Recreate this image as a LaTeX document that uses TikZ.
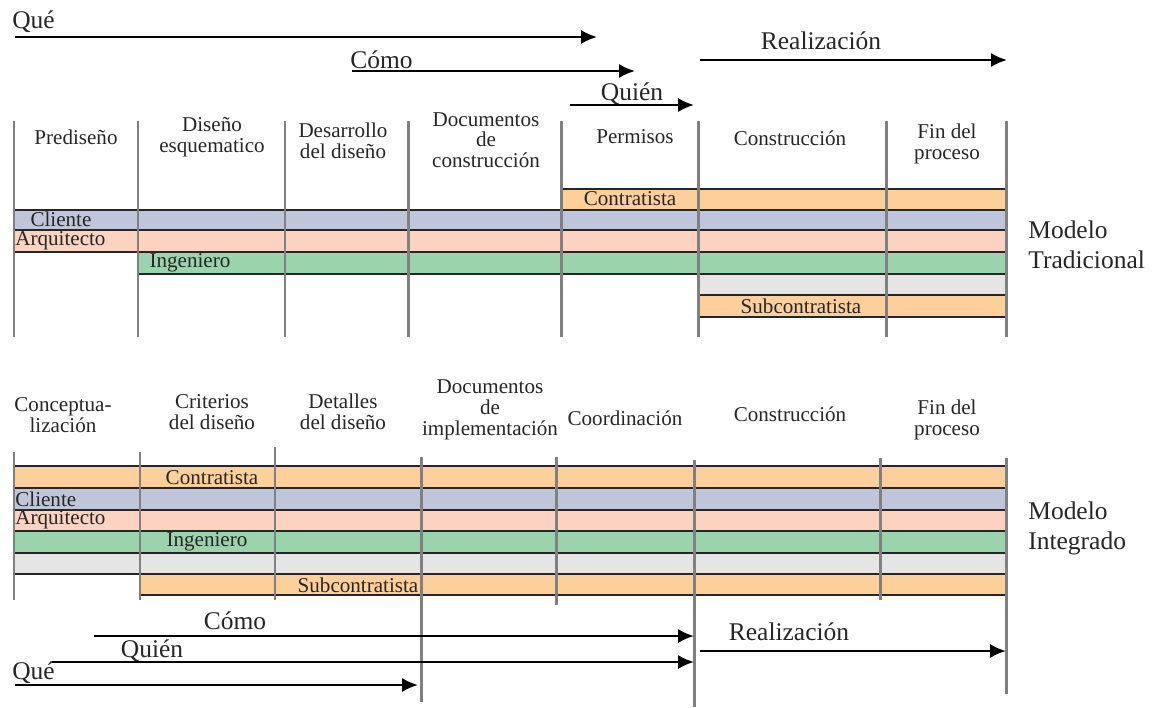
\documentclass[tikz,border=0pt]{standalone}
\usepackage{fontspec}
\setmainfont{Liberation Serif}
\usetikzlibrary{arrows.meta}
\definecolor{naranja}{RGB}{252,207,155}
\definecolor{azul}{RGB}{192,198,218}
\definecolor{salmon}{RGB}{252,211,193}
\definecolor{verde}{RGB}{155,211,172}
\definecolor{gris}{RGB}{229,229,229}
\begin{document}
\begin{tikzpicture}[x=0.02cm,y=-0.02cm]
\tikzstyle{every node}=[inner sep=0pt,text=black!85,font=\fontsize{12}{11.8}\selectfont];
\tikzstyle{fase}=[align=center];
\tikzstyle{banda}=[draw=black!85,line width=1.1pt];
\tikzstyle{poste}=[draw=gray,line width=1.7pt];
\tikzstyle{flecha}=[line width=1.4pt,-{Latex[length=9pt,width=8pt]}];
\tikzstyle{etiq}=[font=\fontsize{14.5}{17}\selectfont];
\useasboundingbox (0,0) rectangle (1158,707);
% flechas de arriba
\node[etiq,anchor=west] (que1) at (12,22) {Qué};
\node[etiq,anchor=west] (como1) at (350,60) {Cómo};
\node[etiq] (quien1) at (632,94) {Quién};
\node[etiq] (real1) at (821,41) {Realización};
\coordinate (qa1) at (15,37); \coordinate (qb1) at (597,37);
\coordinate (ca1) at (352,71); \coordinate (cb1) at (635,71);
\coordinate (wa1) at (570,105); \coordinate (wb1) at (694,105);
\coordinate (ra1) at (700,60); \coordinate (rb1) at (1007,60);
\draw[flecha] (qa1) -- (qb1);
\draw[flecha] (ca1) -- (cb1);
\draw[flecha] (wa1) -- (wb1);
\draw[flecha] (ra1) -- (rb1);
% modelo tradicional
\node[fase] (t1) at (76,137) {Prediseño};
\node[fase] (t2) at (212,137) {Diseño\\esquematico};
\node[fase] (t3) at (343,141) {Desarrollo\\del diseño};
\node[fase] (t4) at (486,140) {Documentos\\de\\construcción};
\node[fase] (t5) at (635,137) {Permisos};
\node[fase] (t6) at (790,138) {Construcción};
\node[fase] (t7) at (947,144) {Fin del\\proceso};
\filldraw[banda,fill=naranja] (561,189) rectangle (1006,210);
\filldraw[banda,fill=azul] (14,210) rectangle (1006,230);
\filldraw[banda,fill=salmon] (14,230) rectangle (1006,252);
\filldraw[banda,fill=verde] (138,252) rectangle (1006,274);
\filldraw[banda,fill=gris] (698,274) rectangle (1006,295);
\filldraw[banda,fill=naranja] (698,295) rectangle (1006,317);
\foreach \x in {14,138,285,408,561,698,886,1006}
  \draw[poste] (\x,121) -- (\x,337);
\node (contr1) at (630,199) {Contratista};
\node (clie1) at (61,219) {Cliente};
\node[anchor=west] (arq1) at (15,241) {Arquitecto};
\node (ing1) at (190,263) {Ingeniero};
\node (sub1) at (801,306) {Subcontratista};
\node[etiq,align=left,anchor=west] (mod1) at (1028,245) {Modelo\\Tradicional};
% modelo integrado
\node[fase] (i1) at (63,415) {Conceptua-\\lización};
\node[fase] (i2) at (212,412) {Criterios\\del diseño};
\node[fase] (i3) at (343,412) {Detalles\\del diseño};
\node[fase] (i4) at (490,410) {Documentos\\de\\implementación};
\node[fase] (i5) at (625,418) {Coordinación};
\node[fase] (i6) at (790,414) {Construcción};
\node[fase] (i7) at (947,420) {Fin del\\proceso};
\filldraw[banda,fill=naranja] (14,466) rectangle (1006,488);
\filldraw[banda,fill=azul] (14,488) rectangle (1006,510);
\filldraw[banda,fill=salmon] (14,510) rectangle (1006,531);
\filldraw[banda,fill=verde] (14,531) rectangle (1006,553);
\filldraw[banda,fill=gris] (14,553) rectangle (1006,574);
\filldraw[banda,fill=naranja] (140,574) rectangle (1006,595);
\foreach \x/\a/\b in {14/452/600,140/452/600,275/447/600,421/457/702,556/457/605,694/460/707,880/458/600,1006/458/694}
  \draw[poste] (\x,\a) -- (\x,\b);
\node (contr2) at (212,478) {Contratista};
\node[anchor=west] (clie2) at (15,499) {Cliente};
\node[anchor=west] (arq2) at (15,520) {Arquitecto};
\node (ing2) at (207,542) {Ingeniero};
\node (sub2) at (358,585) {Subcontratista};
\node[etiq,align=left,anchor=west] (mod2) at (1028,528) {Modelo\\Integrado};
% flechas de abajo
\node[etiq] (como2) at (235,621) {Cómo};
\node[etiq] (quien2) at (152,651) {Quién};
\node[etiq,anchor=west] (que2) at (12,673) {Qué};
\node[etiq] (real2) at (789,632) {Realización};
\coordinate (ca2) at (94,636); \coordinate (cb2) at (694,636);
\coordinate (wa2) at (52,662); \coordinate (wb2) at (694,662);
\coordinate (qa2) at (15,685); \coordinate (qb2) at (418,685);
\coordinate (ra2) at (700,651); \coordinate (rb2) at (1006,651);
\draw[flecha] (ca2) -- (cb2);
\draw[flecha] (wa2) -- (wb2);
\draw[flecha] (qa2) -- (qb2);
\draw[flecha] (ra2) -- (rb2);
\end{tikzpicture}
\end{document}
